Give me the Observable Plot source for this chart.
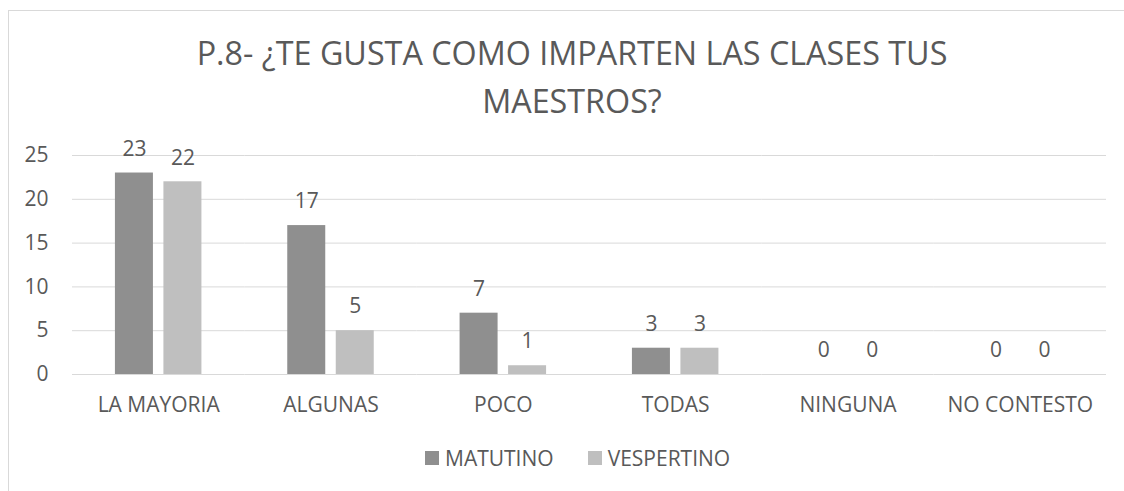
<!DOCTYPE html>
<html>
<head>
<meta charset="utf-8">
<script src="https://cdn.jsdelivr.net/npm/d3@7"></script>
<script src="https://cdn.jsdelivr.net/npm/@observablehq/plot@0.6"></script>
<style>
  html, body { margin: 0; padding: 0; background: #fff; }
  body { width: 1124px; height: 491px; position: relative; overflow: hidden; font-family: "Open Sans", sans-serif; color: #595959; }
  #frame { position: absolute; left: 8px; top: 10px; width: 1200px; height: 600px; border-left: 1px solid #d9d9d9; border-top: 1px solid #d9d9d9; }
  #title { position: absolute; left: 72px; width: 1000px; top: 28px; text-align: center; font-size: 32.3px; line-height: 48px; color: #595959; }
  #chart { position: absolute; left: 0; top: 125px; }
  #legend { position: absolute; left: 425px; top: 446px; display: flex; align-items: center; font-size: 21px; line-height: 24px; color: #595959; }
  #legend .item { display: flex; align-items: center; margin-right: 34px; }
  #legend .sw { width: 14px; height: 14px; margin-right: 6px; }
</style>
</head>
<body>
<div id="frame"></div>
<div id="title"><div>P.8- ¿TE GUSTA COMO IMPARTEN LAS CLASES TUS</div><div>MAESTROS?</div></div>
<div id="chart"></div>
<div id="legend"></div>
<script>
const categories = ["LA MAYORIA", "ALGUNAS", "POCO", "TODAS", "NINGUNA", "NO CONTESTO"];
const series = ["MATUTINO", "VESPERTINO"];
const matutino = [23, 17, 7, 3, 0, 0];
const vespertino = [22, 5, 1, 3, 0, 0];
const colors = ["#8f8f8f", "#bfbfbf"];
const yTicks = [0, 5, 10, 15, 20, 25];

const data = [];
categories.forEach((c, i) => {
  data.push({cat: c, serie: series[0], value: matutino[i]});
  data.push({cat: c, serie: series[1], value: vespertino[i]});
});

const plot = Plot.plot({
  width: 1124,
  height: 294,
  marginLeft: 72,
  marginRight: 18,
  marginTop: 30,
  marginBottom: 45,
  style: {fontFamily: "'Open Sans', sans-serif", fontSize: "21px", color: "#595959", background: "transparent"},
  fx: {domain: categories, padding: 0, label: null, round: false},
  x: {domain: series, paddingInner: 0.2165, paddingOuter: 0.885, axis: null, round: false},
  y: {domain: [0, 25], label: null},
  color: {domain: series, range: colors},
  marks: [
    Plot.gridY(yTicks, {stroke: "#d9d9d9", strokeOpacity: 1, strokeWidth: 1}),
    Plot.axisY(yTicks, {tickSize: 0, tickPadding: 24, fontSize: 21, fill: "#595959", label: null}),
    Plot.axisFx({anchor: "bottom", tickSize: 0, tickPadding: 23, fontSize: 21, fill: "#595959", label: null}),
    Plot.barY(data, {fx: "cat", x: "serie", y: "value", fill: "serie"}),
    Plot.text(data, {fx: "cat", x: "serie", y: "value", text: d => String(d.value), dy: -24, fontSize: 21, fill: "#595959"})
  ]
});
document.getElementById("chart").appendChild(plot);

const color = plot.scale("color");
const legend = d3.select("#legend");
series.forEach(s => {
  const item = legend.append("div").attr("class", "item");
  item.append("div").attr("class", "sw").style("background", color.apply(s));
  item.append("span").text(s);
});
</script>
</body>
</html>
